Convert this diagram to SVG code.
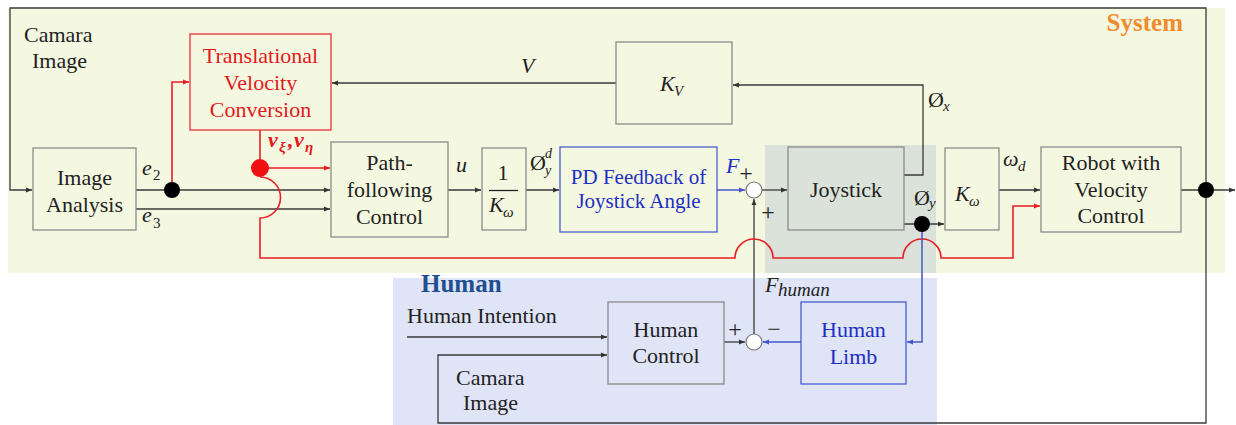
<svg xmlns="http://www.w3.org/2000/svg" width="1236" height="425" viewBox="0 0 1236 425">
<style>
.t,.tl,.m,.s,.up{font-family:"Liberation Serif","Times New Roman",Tinos,"DejaVu Serif",serif}
.t{font-size:22px;fill:#222;text-anchor:middle}
.tl{font-size:22px;fill:#222}
.m{font-size:22px;font-style:italic;fill:#222}
.s{font-size:15px;font-style:italic;fill:#222}
.up{font-size:22px;fill:#222}
.pm{font-size:24px;text-anchor:middle}
.box{fill:none;stroke:#8a8a8a;stroke-width:1.3}
.rbox{fill:none;stroke:#e8303a;stroke-width:1.3}
.bbox{fill:none;stroke:#4a5cd0;stroke-width:1.3}
.ln{fill:none;stroke:#3a3a3a;stroke-width:1.3}
.rl{fill:none;stroke:#e81e24;stroke-width:1.6}
.bl{fill:none;stroke:#4455c8;stroke-width:1.5}
.red{fill:#e21a20}
.blue{fill:#1e2ec4}
.sum{fill:#fff;stroke:#777;stroke-width:1.2}
</style>
<defs>
<marker id="ag" markerWidth="8" markerHeight="6" refX="6" refY="3" orient="auto" markerUnits="userSpaceOnUse"><path d="M0,0.6 L6,3 L0,5.4 z" fill="#333"/></marker>
<marker id="ar" markerWidth="8" markerHeight="6" refX="6" refY="3" orient="auto" markerUnits="userSpaceOnUse"><path d="M0,0.6 L6,3 L0,5.4 z" fill="#e81e24"/></marker>
<marker id="ab" markerWidth="8" markerHeight="6" refX="6" refY="3" orient="auto" markerUnits="userSpaceOnUse"><path d="M0,0.6 L6,3 L0,5.4 z" fill="#4455c8"/></marker>
</defs>

<g id="regions">
<rect x="8" y="8" width="1217" height="265" fill="#f5f8e1"/>
<rect x="765" y="145" width="171" height="128" fill="#dae2d9"/>
<rect x="393" y="278" width="544" height="147" fill="#e0e4f7"/>
<text class="up" x="1183" y="31" style="font-size:25px;font-weight:bold;fill:#f08c2c;text-anchor:end">System</text>
<text class="up" x="421" y="292" style="font-size:25px;font-weight:bold;fill:#1e4f8f">Human</text>
<text class="tl" x="24" y="42">Camara</text>
<text class="tl" x="32" y="68">Image</text>
<text class="tl" x="456" y="385">Camara</text>
<text class="tl" x="463" y="410">Image</text>
<text class="tl" x="407" y="323">Human Intention</text>
</g>

<g id="connectors">
<path class="ln" d="M1206,190 V8 H10 V190 H32" marker-end="url(#ag)"/>
<path class="ln" d="M1206,190 V423 H438 V355 H607" marker-end="url(#ag)"/>
<path class="ln" d="M1181,190 H1235" marker-end="url(#ag)"/>
<path class="ln" d="M136,190 H330" marker-end="url(#ag)"/>
<path class="ln" d="M136,209 H330" marker-end="url(#ag)"/>
<path class="ln" d="M448,190 H481" marker-end="url(#ag)"/>
<path class="ln" d="M526,190 H559" marker-end="url(#ag)"/>
<path class="ln" d="M762,190 H787" marker-end="url(#ag)"/>
<path class="ln" d="M904,175 H923 V85 H733" marker-end="url(#ag)"/>
<path class="ln" d="M616,83 H332" marker-end="url(#ag)"/>
<path class="ln" d="M904,224 H944" marker-end="url(#ag)"/>
<path class="ln" d="M999,190 H1040" marker-end="url(#ag)"/>
<path class="ln" d="M407,337 H607" marker-end="url(#ag)"/>
<path class="ln" d="M724,342 H745" marker-end="url(#ag)"/>
<path class="ln" d="M754,334 V199" marker-end="url(#ag)"/>
<path class="rl" d="M172,190 V82 H189" marker-end="url(#ar)"/>
<path class="rl" d="M260,130 V168"/>
<path class="rl" d="M260,168 H330" marker-end="url(#ar)"/>
<path class="rl" d="M260,177 A20.5,20.5 0 0 1 260,218 V258 H735 A19,19 0 0 1 773,258 H903 A19,19 0 0 1 941,258 H1013 V206 H1040" marker-end="url(#ar)"/>
<path class="bl" d="M717,190 H745" marker-end="url(#ab)"/>
<path class="bl" d="M922,224 V342 H907" marker-end="url(#ab)"/>
<path class="bl" d="M801,342 H763" marker-end="url(#ab)"/>
<circle cx="172" cy="190" r="8" fill="#000"/>
<circle cx="922" cy="224" r="8" fill="#000"/>
<circle cx="1206" cy="190" r="8" fill="#000"/>
<circle cx="260" cy="168" r="9" fill="#f01010"/>
<text class="m" x="142" y="175">e</text><text class="s" x="153" y="180" style="font-style:normal">2</text>
<text class="m" x="142" y="222">e</text><text class="s" x="153" y="228" style="font-style:normal">3</text>
<text class="m red" x="268" y="147" style="font-weight:bold">v</text><text class="s red" x="279" y="152" style="font-weight:bold">ξ</text><text class="m red" x="288" y="147" style="font-weight:bold">,</text><text class="m red" x="294" y="147" style="font-weight:bold">v</text><text class="s red" x="305" y="152" style="font-weight:bold">η</text>
<text class="m" x="456" y="172">u</text>
<text class="m" x="521" y="73">V</text>
<text class="up" x="530" y="170">Ø</text><text class="s" x="545" y="158" style="font-size:14px">d</text><text class="s" x="545" y="175" style="font-size:14px">y</text>
<text class="m blue" x="726" y="173">F</text>
<text class="up pm" x="746" y="181">+</text>
<text class="up pm" x="768" y="220">+</text>
<text class="up" x="928" y="107">Ø</text><text class="s" x="943" y="111">x</text>
<text class="up" x="914" y="205">Ø</text><text class="s" x="929" y="208">y</text>
<text class="m" x="1003" y="166">ω</text><text class="s" x="1018" y="171">d</text>
<text class="m" x="765" y="292">F</text><text class="m" x="778" y="296" style="font-size:19px">human</text>
<text class="up pm" x="735" y="337">+</text>
<text class="up pm" x="774" y="337">−</text>
<circle class="sum" cx="754" cy="190" r="8"/>
<circle class="sum" cx="754" cy="342" r="8"/>
</g>

<g id="image-analysis">
<rect class="box" x="33" y="148" width="103" height="82"/>
<text class="t" x="84.5" y="185">Image</text>
<text class="t" x="84.5" y="212">Analysis</text>
</g>

<g id="translational-velocity-conversion">
<rect class="rbox" x="190" y="34" width="141" height="96"/>
<text class="t red" x="260.5" y="63">Translational</text>
<text class="t red" x="260.5" y="90">Velocity</text>
<text class="t red" x="260.5" y="117">Conversion</text>
</g>

<g id="path-following-control">
<rect class="box" x="331" y="142" width="117" height="95"/>
<text class="t" x="389.5" y="170">Path-</text>
<text class="t" x="389.5" y="197">following</text>
<text class="t" x="389.5" y="224">Control</text>
</g>

<g id="inv-k-omega">
<rect class="box" x="482" y="148" width="44" height="82"/>
<text class="t" x="503" y="180">1</text>
<line x1="489" y1="190.5" x2="518" y2="190.5" stroke="#222" stroke-width="1.3"/>
<text class="m" x="489" y="212">K</text><text class="s" x="503" y="217">ω</text>
</g>

<g id="k-v">
<rect class="box" x="616" y="42" width="116" height="82"/>
<text class="m" x="660" y="91">K</text><text class="s" x="674" y="96">V</text>
</g>

<g id="pd-feedback">
<rect class="bbox" x="560" y="147" width="157" height="85"/>
<text class="t blue" x="638.5" y="184" style="font-size:21px">PD Feedback of</text>
<text class="t blue" x="638.5" y="208" style="font-size:21px">Joystick Angle</text>
</g>

<g id="joystick">
<rect class="box" x="788" y="147" width="116" height="83"/>
<text class="t" x="846" y="197">Joystick</text>
</g>

<g id="k-omega">
<rect class="box" x="945" y="148" width="54" height="82"/>
<text class="m" x="955" y="201">K</text><text class="s" x="969" y="206">ω</text>
</g>

<g id="robot">
<rect class="box" x="1041" y="147" width="140" height="85"/>
<text class="t" x="1111" y="170">Robot with</text>
<text class="t" x="1111" y="197">Velocity</text>
<text class="t" x="1111" y="223">Control</text>
</g>

<g id="human-control">
<rect class="box" x="608" y="302" width="116" height="82"/>
<text class="t" x="666" y="337">Human</text>
<text class="t" x="666" y="363">Control</text>
</g>

<g id="human-limb">
<rect class="bbox" x="801" y="302" width="105" height="82"/>
<text class="t blue" x="853.5" y="337">Human</text>
<text class="t blue" x="853.5" y="364">Limb</text>
</g>
</svg>
